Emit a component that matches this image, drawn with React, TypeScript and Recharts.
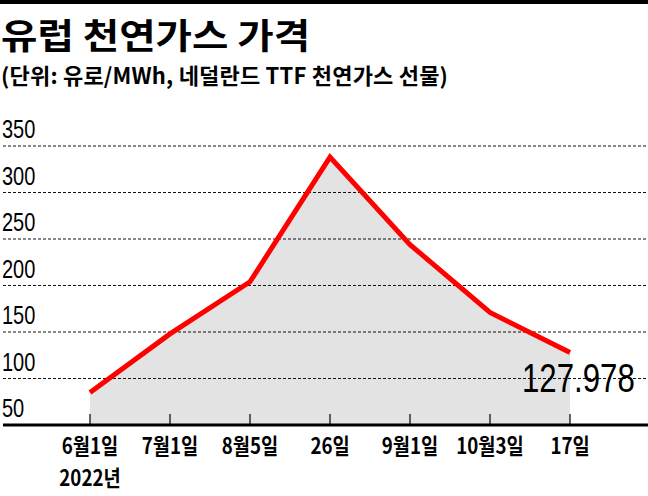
import React from "react";
import { AreaChart, Area, XAxis, YAxis, CartesianGrid, LabelList } from "recharts";

const dates = ["6월1일", "7월1일", "8월5일", "26일", "9월1일", "10월3일", "17일"];
const prices = [85, 148, 204, 338, 244, 171, 127.978];
const yTicks = [50, 100, 150, 200, 250, 300, 350];
const yearNote = "2022년";

const data = dates.map((d, i) => ({ date: d, price: prices[i] }));

const cjk = "'Noto Sans CJK KR', 'Noto Sans', sans-serif";

function YTick({ y, payload }: any) {
  return (
    <text
      transform={`translate(2 ${y - 8}) scale(0.8 1)`}
      fontSize={25}
      fontFamily="'Liberation Sans', Arial, sans-serif"
      fill="#000"
    >
      {payload.value}
    </text>
  );
}

// tick mark points up from the axis, label below; the first one carries the year
function XTick({ x, y, payload, index }: any) {
  return (
    <g>
      <line x1={x} x2={x} y1={y - 11} y2={y} stroke="#000" strokeWidth={1.2} />
      <text
        transform={`translate(${x} ${y + 29}) scale(0.85 1)`}
        textAnchor="middle"
        fontSize={22}
        fontWeight={700}
        fontFamily={cjk}
        fill="#000"
      >
        <tspan x={0} y={0}>{payload.value}</tspan>
        {index === 0 && <tspan x={0} y={32}>{yearNote}</tspan>}
      </text>
    </g>
  );
}

function EndLabel({ x, y, value, index }: any) {
  if (index !== prices.length - 1) return null;
  return (
    <text
      transform={`translate(${x - 48} ${y + 40}) scale(0.78 1)`}
      fontSize={40}
      fontFamily="'Liberation Sans', Arial, sans-serif"
      fill="#000"
    >
      {value}
    </text>
  );
}

export default function App() {
  return (
    <div style={{ position: "absolute", left: 0, top: 0, width: 648, height: 496, background: "#fff", overflow: "hidden" }}>
      <div style={{ position: "absolute", left: 0, top: 0, width: 648, height: 4, background: "#000" }} />
      <div
        style={{
          position: "absolute",
          left: 1,
          top: 12,
          fontFamily: cjk,
          fontWeight: 700,
          fontSize: 35,
          lineHeight: "44px",
          whiteSpace: "nowrap",
          color: "#000",
          transform: "scaleX(1.13)",
          transformOrigin: "0 0",
        }}
      >
        유럽 천연가스 가격
      </div>
      <div
        style={{
          position: "absolute",
          left: 1,
          top: 58,
          fontFamily: cjk,
          fontWeight: 700,
          fontSize: 22,
          lineHeight: "32px",
          whiteSpace: "nowrap",
          letterSpacing: 0.2,
          color: "#000",
        }}
      >
        (단위: 유로/MWh, 네덜란드 TTF 천연가스 선물)
      </div>
      <div style={{ position: "absolute", left: 0, top: 0 }}>
        <AreaChart width={648} height={496} data={data} margin={{ top: 146, right: 0, bottom: 0, left: 3 }}>
          <CartesianGrid vertical={false} stroke="#111" strokeDasharray="3 2" />
          <Area
            type="linear"
            dataKey="price"
            stroke="#ff0000"
            strokeWidth={5}
            fill="#000"
            fillOpacity={0.11}
            dot={false}
            activeDot={false}
            isAnimationActive={false}
          >
            <LabelList dataKey="price" content={<EndLabel />} />
          </Area>
          <YAxis
            mirror
            width={40}
            domain={[50, 350]}
            ticks={yTicks}
            interval={0}
            axisLine={false}
            tickLine={false}
            tick={<YTick />}
          />
          <XAxis
            dataKey="date"
            height={71}
            interval={0}
            padding={{ left: 87, right: 78 }}
            tickSize={0}
            tickMargin={0}
            tickLine={false}
            axisLine={{ stroke: "#000", strokeWidth: 3 }}
            tick={<XTick />}
          />
        </AreaChart>
      </div>
    </div>
  );
}
